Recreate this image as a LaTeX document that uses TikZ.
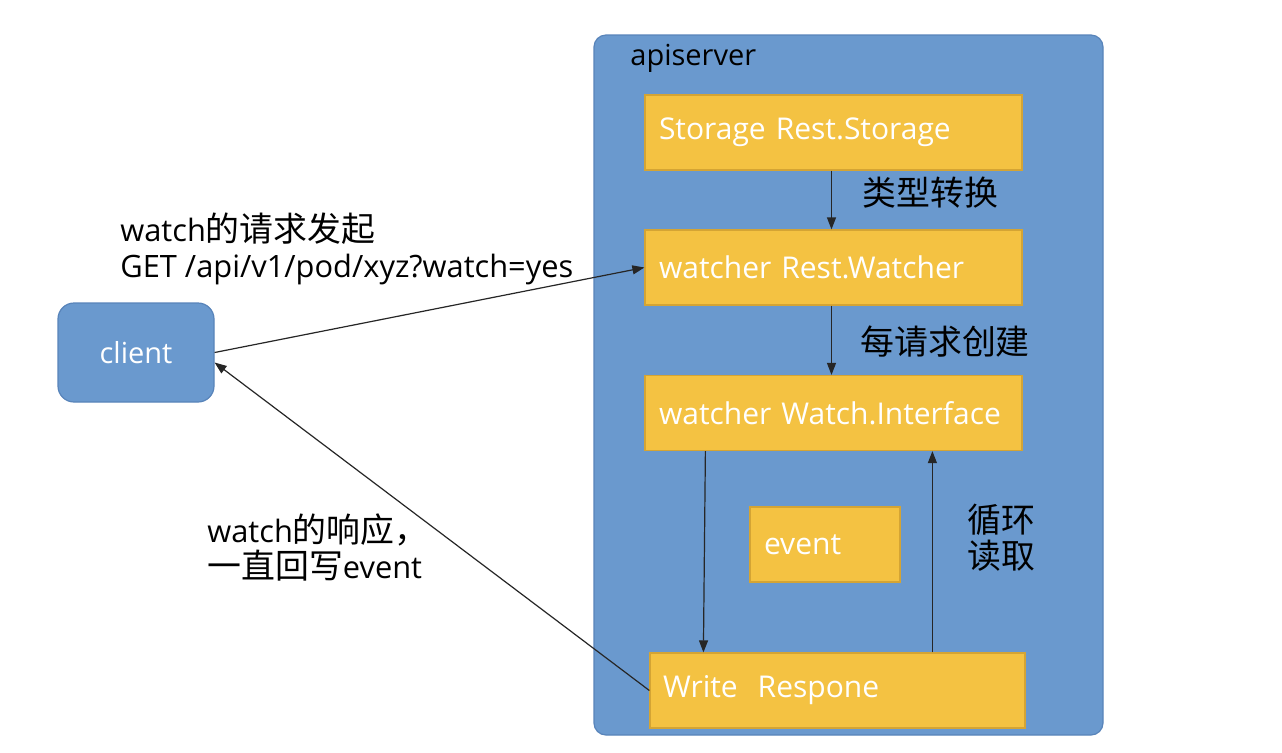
\documentclass[tikz,border=0pt]{standalone}
\usepackage{fontspec}
\setmainfont{Open Sans}
\newfontfamily\cjk[Scale=1.1]{Noto Sans CJK SC}
\usetikzlibrary{arrows.meta}
\definecolor{apiblue}{RGB}{106,153,206}
\definecolor{apiedge}{RGB}{88,132,186}
\definecolor{boxyel}{RGB}{244,194,66}
\definecolor{boxedge}{RGB}{212,164,52}
\begin{document}
\begin{tikzpicture}[x=0.5pt,y=-0.5pt,
  ybox/.style={draw=boxedge, line width=0.6pt, fill=boxyel, text=white,
    minimum height=37.5pt, inner xsep=7pt, align=left,
    font=\fontsize{15}{17}\selectfont},
  bbox/.style={draw=apiedge, line width=0.6pt, fill=apiblue},
  arr/.style={-{Triangle[length=6pt,width=4.5pt]}, line width=0.6pt, draw=black!85},
  lbl/.style={font=\fontsize{15.4}{18}\selectfont, align=left, anchor=west, inner sep=0pt},
]
\useasboundingbox (0,0) rectangle (1282,752);
\fill[white] (0,0) rectangle (1282,752);

% apiserver container
\node[bbox, rounded corners=6pt, minimum width=254.5pt, minimum height=350pt] (api) at (848.5,385) {};
\node[lbl, text=black, font=\fontsize{14.5}{17}\selectfont] (apilbl) at (630,58) {apiserver};

% inner boxes
\node[ybox, text width=174.5pt] (st) at (833.5,132.5) {Storage Rest.Storage};
\node[ybox, text width=174.5pt] (rw) at (833.5,267.5) {watcher Rest.Watcher};
\node[ybox, text width=174.5pt] (wi) at (833.5,413) {watcher Watch.Interface};
\node[ybox, text width=61pt] (ev) at (825,544.5) {event};
\node[ybox, text width=174.5pt, inner xsep=6.5pt] (wr) at (837.5,690.5) {Write~ Respone};

% client
\node[bbox, rounded corners=8pt, minimum width=78pt, minimum height=49.5pt, text=white,
  font=\fontsize{14.5}{17}\selectfont] (client) at (136,352.5) {client};

% internal arrows
\draw[arr] ([xshift=-1pt]st.south) -- ([xshift=-1pt]rw.north);
\draw[arr] ([xshift=-1pt]rw.south) -- ([xshift=-1pt]wi.north);
\draw[arr] ([xshift=30.5pt]wi.south west) -- ([xshift=27pt]wr.north west);
\draw[arr] ([xshift=141.5pt]wr.north west) -- ([xshift=144pt]wi.south west);

% client arrows
\draw[arr] (client.east) -- (rw.west);
\draw[arr] (wr.west) -- ([yshift=-5pt]client.east);

% labels
\node[lbl] (l1) at (862,193) {\cjk 类型转换};
\node[lbl] (l2) at (860,342) {\cjk 每请求创建};
\node[lbl] (l3) at (967,538) {\cjk 循环\\\cjk 读取};
\node[lbl] (l4) at (120,249) {watch{\cjk 的请求发起}\\GET /api/v1/pod/xyz?watch=yes};
\node[lbl] (l5) at (207,547) {watch{\cjk 的响应，}\\{\cjk 一直回写}event};
\end{tikzpicture}
\end{document}
